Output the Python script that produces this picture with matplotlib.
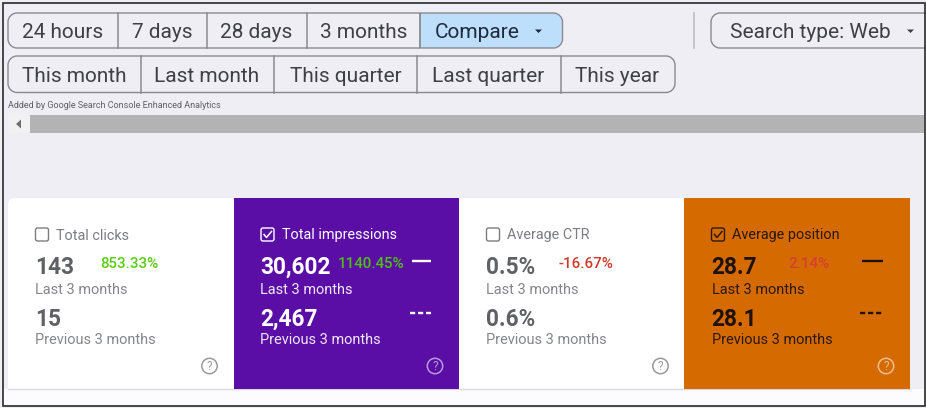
import matplotlib
matplotlib.use('Agg')
import matplotlib.pyplot as plt
from matplotlib.patches import FancyBboxPatch, Rectangle, Circle, Polygon, PathPatch
from matplotlib.path import Path

# Data
row1_labels = ['24 hours', '7 days', '28 days', '3 months']
row2_labels = ['This month', 'Last month', 'This quarter', 'Last quarter', 'This year']
card_titles = ['Total clicks', 'Total impressions', 'Average CTR', 'Average position']
current_values = ['143', '30,602', '0.5%', '28.7']
previous_values = ['15', '2,467', '0.6%', '28.1']
change_labels = ['853.33%', '1140.45%', '-16.67%', '2.14%']
card_checked = [False, True, False, True]

plt.rcParams['font.family'] = ['Roboto', 'DejaVu Sans']

W, H = 926, 408
fig = plt.figure(figsize=(W / 100, H / 100), dpi=100)
ax = fig.add_axes([0, 0, 1, 1])
ax.set_xlim(0, W)
ax.set_ylim(H, 0)
ax.axis('off')

BG = '#EFEEF5'
BORDER = '#8A8A8E'
TEXT = '#3F4046'


def rect(x0, y0, x1, y1, color, z=1):
    ax.add_patch(Rectangle((x0, y0), x1 - x0, y1 - y0, fc=color, ec='none', zorder=z))


def rounded_path(x0, y0, x1, y1, r, left=True, right=True):
    # button outline, with only the outer corners rounded
    k = 0.55 * r
    rl = r if left else 0
    rr = r if right else 0
    verts = [(x0 + rl, y0), (x1 - rr, y0)]
    codes = [Path.MOVETO, Path.LINETO]
    if right:
        verts += [(x1 - rr + k, y0), (x1, y0 + rr - k), (x1, y0 + rr)]
        codes += [Path.CURVE4] * 3
    verts += [(x1, y1 - rr)]
    codes += [Path.LINETO]
    if right:
        verts += [(x1, y1 - rr + k), (x1 - rr + k, y1), (x1 - rr, y1)]
        codes += [Path.CURVE4] * 3
    verts += [(x0 + rl, y1)]
    codes += [Path.LINETO]
    if left:
        verts += [(x0 + rl - k, y1), (x0, y1 - rl + k), (x0, y1 - rl)]
        codes += [Path.CURVE4] * 3
    verts += [(x0, y0 + rl)]
    codes += [Path.LINETO]
    if left:
        verts += [(x0, y0 + rl - k), (x0 + rl - k, y0), (x0 + rl, y0)]
        codes += [Path.CURVE4] * 3
    return Path(verts, codes)


def button_row(labels, edges, y0, y1, centers, rounded_right=True):
    for i, label in enumerate(labels):
        ax.text(centers[i], (y0 + y1) / 2 + 2, label, fontsize=15, color=TEXT,
                ha='center', va='center', zorder=5)
    for x in edges[1:-1]:
        ax.plot([x, x], [y0, y1], color=BORDER, lw=1.1, zorder=4)
    ax.add_patch(PathPatch(rounded_path(edges[0], y0, edges[-1], y1, 9, right=rounded_right),
                           fc='none', ec=BORDER, lw=1.0, zorder=4))


# page background and window frame
rect(0, 0, W, H, BG, 0)
rect(3, 389, 924, 405, '#FCFCFE', 1)

# first row of buttons
ax.add_patch(PathPatch(rounded_path(420, 13, 562.5, 48, 9, left=False), fc='#BEDFFC',
                       ec=BORDER, lw=1.0, zorder=2))
button_row(row1_labels, [8, 117.5, 206.5, 307, 420], 13, 48, [63, 162, 256.5, 364],
           rounded_right=False)
ax.text(477, 32.5, 'Compare', fontsize=15, color='#1F2A3C', ha='center', va='center', zorder=5)
ax.add_patch(Polygon([(535, 29.5), (542, 29.5), (538.5, 33)], fc='#1F2A3C', ec='none', zorder=5))

# search type button, runs off the right edge
ax.plot([693.5, 693.5], [13, 48], color='#BDBDC2', lw=1.2, zorder=3)
ax.add_patch(PathPatch(rounded_path(711, 13, 935, 48, 9), fc='none', ec=BORDER, lw=1.0, zorder=3))
ax.text(810, 32.5, 'Search type: Web', fontsize=15, color=TEXT, ha='center', va='center', zorder=5)
ax.add_patch(Polygon([(907, 29.5), (914, 29.5), (910.5, 33)], fc=TEXT, ec='none', zorder=5))

# second row of buttons
button_row(row2_labels, [8, 140.5, 274, 417, 560.5, 675], 56, 92.5,
           [74.5, 207, 345.5, 488.5, 617.5])

ax.text(8, 106, 'Added by Google Search Console Enhanced Analytics', fontsize=6.5,
        color='#5F6065', ha='left', va='center', zorder=5)

# scrollbar
rect(8, 114, 30, 133, '#F1F1F1', 2)
rect(30, 114.5, 924, 133, '#B3B3B3', 2)
ax.add_patch(Polygon([(21, 119.5), (21, 128.5), (16, 124)], fc='#6E6E6E', ec='none', zorder=3))

# metric cards
card_x = [8, 233.5, 459, 684, 910]
card_bg = ['#FFFFFF', '#5A0EA6', '#FFFFFF', '#D56A00']
title_col = ['#7C7D82', '#FFFFFF', '#7C7D82', '#2A1A08']
value_col = ['#606165', '#FFFFFF', '#606165', '#1E1206']
sub_col = ['#85868A', '#F0E8F8', '#85868A', '#2A1A08']
change_col = ['#5CCB12', '#4FBF12', '#D23A2C', '#D8402A']
change_x = [129, 371, 585.5, 808.5]
check_x = [35, 260.5, 486, 711]
text_x = [35, 260.5, 486, 711.5]
help_x = [209.5, 435, 660.5, 886]
help_col = ['#9A9A9E', '#B79AD8', '#9A9A9E', '#EDBE8A']

ax.add_patch(FancyBboxPatch((8, 198), 40, 40, boxstyle='round,pad=0,rounding_size=7',
                            fc='#FFFFFF', ec='none', zorder=1))
rect(8, 206, 233.5, 388.5, '#FFFFFF', 1)
rect(16, 198, 233.5, 206, '#FFFFFF', 1)
rect(459, 198, 684, 388.5, '#FFFFFF', 1)
ax.plot([8, 910], [388.5, 388.5], color='#DADADE', lw=1, zorder=1.5)

for i in range(4):
    x = text_x[i]
    if card_bg[i] != '#FFFFFF':
        rect(card_x[i], 198, card_x[i + 1], 389, card_bg[i], 2)

    # checkbox
    ax.add_patch(FancyBboxPatch((check_x[i] + 0.5, 228), 13, 13,
                                boxstyle='round,pad=0,rounding_size=2', fc='none',
                                ec=title_col[i], lw=1.0, zorder=4))
    if card_checked[i]:
        cx = check_x[i]
        ax.plot([cx + 3.5, cx + 6, cx + 11], [234.5, 237.5, 231.5], color=title_col[i],
                lw=1.1, zorder=5)

    ax.text(x + 21, 235.5, card_titles[i], fontsize=10.35, color=title_col[i], va='center', zorder=5)
    ax.text(x, 267.5, current_values[i], fontsize=16.3, fontweight='bold', color=value_col[i],
            va='center', zorder=5)
    ax.text(change_x[i], 263.5, change_labels[i], fontsize=10.9, fontweight='medium',
            color=change_col[i], ha='center', va='center', zorder=5)
    ax.text(x, 289.5, 'Last 3 months', fontsize=10.45, color=sub_col[i], va='center', zorder=5)
    ax.text(x, 319, previous_values[i], fontsize=16.3, fontweight='bold', color=value_col[i],
            va='center', zorder=5)
    ax.text(x, 340.5, 'Previous 3 months', fontsize=10.45, color=sub_col[i], va='center', zorder=5)

    # help icon
    ax.add_patch(Circle((help_x[i], 366), 7.7, fc='none', ec=help_col[i], lw=1.1, zorder=5))
    ax.text(help_x[i], 366.5, '?', fontsize=8.5, color=help_col[i], ha='center', va='center', zorder=5)

# legend line samples on the two selected cards
for x0, x1, col in [(412, 431, '#FFFFFF'), (861.5, 882.5, '#1E1206')]:
    ax.plot([x0, x1], [261, 261], color=col, lw=1.7, solid_capstyle='butt', zorder=5)
    ax.plot([x0 - 2, x1], [312.5, 312.5], color=col, lw=1.7, linestyle=(0, (2.2, 1.2)), zorder=5)

# screenshot frame
ax.add_patch(Rectangle((2.5, 2.5), 922, 403, fc='none', ec='#2A2A2A', lw=1.2, zorder=10))

fig.savefig('out.png', dpi=100)
